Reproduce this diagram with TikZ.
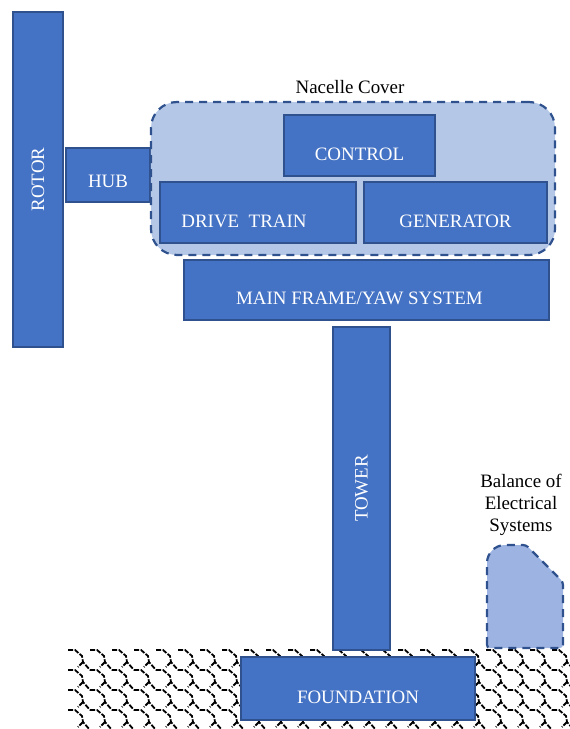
\documentclass[tikz,border=0pt]{standalone}
\usepackage{fontspec}
\setmainfont{Liberation Serif}
\definecolor{boxc}{HTML}{4472C4}
\definecolor{bdr}{HTML}{2F528F}
\definecolor{nac}{HTML}{B4C7E7}
\definecolor{bal}{HTML}{9DB3E1}
\tikzset{
  blk/.style={draw=bdr, fill=boxc, line width=1.6bp, inner sep=0pt},
  txt/.style={text=white, font=\fontsize{19}{22}\selectfont, inner sep=0pt},
  dtxt/.style={text=black, font=\fontsize{19}{22}\selectfont, inner sep=0pt, align=center},
  dsh/.style={draw=bdr, line width=2.2bp, dash pattern=on 8bp off 6bp},
  shingle/.style={draw=black, line width=1.8bp, dash pattern=on 5bp off 1.5bp}
}
\begin{document}
\begin{tikzpicture}[x=1bp,y=-1bp]
\useasboundingbox (0,0) rectangle (570,729);
% ground pattern
\begin{scope}
\clip (68,648) rectangle (570,729);
\foreach \j in {0,...,4}{
  \foreach \i in {0,...,24}{
    \pgfmathsetmacro{\ox}{46+\i*22}
    \pgfmathsetmacro{\oy}{650+\j*20}
    \draw[shingle] (\ox,\oy) -- ++(7,0) -- ++(7,6) -- ++(1,6) -- ++(7,8);
    \draw[shingle] (\ox+15,\oy+12) -- ++(-5,5);
  }
}
\end{scope}
% rotor and hub
\node[blk, minimum width=335bp, minimum height=50bp, rotate=90] (rotor) at (38,179.5) {};
\node[txt, rotate=90] (rotort) at (rotor.center) {ROTOR};
\node[blk, minimum width=84bp, minimum height=54bp] (hub) at (108,175) {};
\node[txt, yshift=-6bp] (hubt) at (hub.center) {HUB};
% nacelle
\node[dsh, fill=nac, rounded corners=26bp, minimum width=404bp, minimum height=153bp] (nacelle) at (353,178.5) {};
\node[dtxt] (nact) at (350,87) {Nacelle Cover};
\node[blk, minimum width=151bp, minimum height=61bp] (ctrl) at (359.5,145.5) {};
\node[txt, yshift=-9bp] (ctrlt) at (ctrl.center) {CONTROL};
\node[blk, minimum width=196bp, minimum height=61bp] (drive) at (258,212.5) {};
\node[txt, yshift=-9bp, xshift=-14bp] (drivet) at (drive.center) {DRIVE\ \ TRAIN};
\node[blk, minimum width=183bp, minimum height=61bp] (gen) at (455.5,212.5) {};
\node[txt, yshift=-9bp] (gent) at (gen.center) {GENERATOR};
\node[blk, minimum width=365bp, minimum height=60bp] (frame) at (366.5,290) {};
\node[txt, yshift=-8bp, xshift=-7bp] (framet) at (frame.center) {MAIN FRAME/YAW SYSTEM};
% tower
\node[blk, minimum width=323bp, minimum height=57bp, rotate=90] (tower) at (361.5,488.5) {};
\node[txt, rotate=90] (towert) at (tower.center) {TOWER};
% foundation
\node[blk, minimum width=234bp, minimum height=63bp] (found) at (358,688.5) {};
\node[txt, yshift=-9bp] (foundt) at (found.center) {FOUNDATION};
% balance of electrical systems
\draw[dsh, fill=bal, rounded corners=3bp] (487,648) -- (487,570) [rounded corners=18bp] -- (487,545) [rounded corners=3bp] -- (526,545) -- (563,582) -- (563,648) -- cycle;
\node[dtxt] (balt) at (521,505) {Balance of\\Electrical\\Systems};
\end{tikzpicture}
\end{document}
